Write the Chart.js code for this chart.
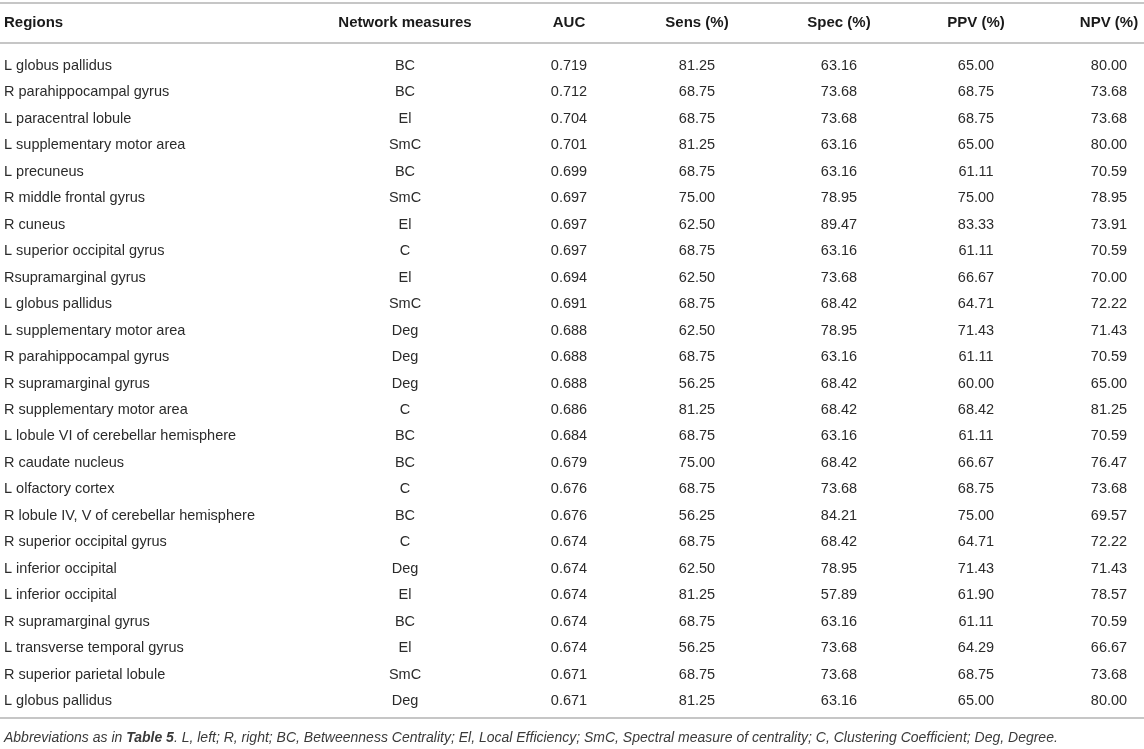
<!DOCTYPE html>
<html>
<head>
<meta charset="utf-8">
<script src="https://cdn.jsdelivr.net/npm/chart.js@4.4.1/dist/chart.umd.min.js"></script>
<style>
  html, body { margin: 0; padding: 0; background: #fff; }
  #wrap { width: 1144px; height: 749px; position: relative; }
</style>
</head>
<body>
<div id="wrap"><canvas id="tabla"></canvas></div>
<script>
// datos de la tabla
const headers = ['Regions', 'Network measures', 'AUC', 'Sens (%)', 'Spec (%)', 'PPV (%)', 'NPV (%)'];
const regions = [
  'L globus pallidus', 'R parahippocampal gyrus', 'L paracentral lobule', 'L supplementary motor area',
  'L precuneus', 'R middle frontal gyrus', 'R cuneus', 'L superior occipital gyrus',
  'Rsupramarginal gyrus', 'L globus pallidus', 'L supplementary motor area', 'R parahippocampal gyrus',
  'R supramarginal gyrus', 'R supplementary motor area', 'L lobule VI of cerebellar hemisphere',
  'R caudate nucleus', 'L olfactory cortex', 'R lobule IV, V of cerebellar hemisphere',
  'R superior occipital gyrus', 'L inferior occipital', 'L inferior occipital', 'R supramarginal gyrus',
  'L transverse temporal gyrus', 'R superior parietal lobule', 'L globus pallidus'
];
const measures = ['BC', 'BC', 'El', 'SmC', 'BC', 'SmC', 'El', 'C', 'El', 'SmC', 'Deg', 'Deg', 'Deg',
  'C', 'BC', 'BC', 'C', 'BC', 'C', 'Deg', 'El', 'BC', 'El', 'SmC', 'Deg'];
const auc = [0.719, 0.712, 0.704, 0.701, 0.699, 0.697, 0.697, 0.697, 0.694, 0.691, 0.688, 0.688, 0.688,
  0.686, 0.684, 0.679, 0.676, 0.676, 0.674, 0.674, 0.674, 0.674, 0.674, 0.671, 0.671];
const sens = [81.25, 68.75, 68.75, 81.25, 68.75, 75.00, 62.50, 68.75, 62.50, 68.75, 62.50, 68.75, 56.25,
  81.25, 68.75, 75.00, 68.75, 56.25, 68.75, 62.50, 81.25, 68.75, 56.25, 68.75, 81.25];
const spec = [63.16, 73.68, 73.68, 63.16, 63.16, 78.95, 89.47, 63.16, 73.68, 68.42, 78.95, 63.16, 68.42,
  68.42, 63.16, 68.42, 73.68, 84.21, 68.42, 78.95, 57.89, 63.16, 73.68, 73.68, 63.16];
const ppv = [65.00, 68.75, 68.75, 65.00, 61.11, 75.00, 83.33, 61.11, 66.67, 64.71, 71.43, 61.11, 60.00,
  68.42, 61.11, 66.67, 68.75, 75.00, 64.71, 71.43, 61.90, 61.11, 64.29, 68.75, 65.00];
const npv = [80.00, 73.68, 73.68, 80.00, 70.59, 78.95, 73.91, 70.59, 70.00, 72.22, 71.43, 70.59, 65.00,
  81.25, 70.59, 76.47, 73.68, 69.57, 72.22, 71.43, 78.57, 70.59, 66.67, 73.68, 80.00];
const footnote = [
  ['Abbreviations as in ', false], ['Table 5', true],
  ['. L, left; R, right; BC, Betweenness Centrality; El, Local Efficiency; SmC, Spectral measure of centrality; C, Clustering Coefficient; Deg, Degree.', false]
];

// maquetacion (posiciones de columnas en unidades del eje x, filas en unidades del eje y)
const FONT = '"Liberation Sans", Arial, Helvetica, sans-serif';
const colX = [0.04, 4.05, 5.69, 6.97, 8.39, 9.76, 11.09];
const colAlign = ['left', 'center', 'center', 'center', 'center', 'center', 'center'];
const filaHeader = -1.62, lineaTop = -2.38, lineaHeader = -0.87, lineaBottom = 24.65, filaNota = 25.4;

let columnas = [
  regions,
  measures,
  auc.map(v => v.toFixed(3)),
  sens.map(v => v.toFixed(2)),
  spec.map(v => v.toFixed(2)),
  ppv.map(v => v.toFixed(2)),
  npv.map(v => v.toFixed(2))
];

let datasets = columnas.map((textos, c) => ({
  label: headers[c],
  textos: textos,
  data: textos.map((t, i) => ({ x: colX[c], y: i })),
  pointRadius: 0,
  pointHoverRadius: 0
}));

let pluginTabla = {
  id: 'pluginTabla',
  afterDatasetsDraw(chart) {
    let ctx = chart.ctx;
    let x = chart.scales.x, y = chart.scales.y;
    ctx.save();
    // lineas horizontales
    ctx.strokeStyle = '#c6c6c6';
    ctx.lineWidth = 2;
    [lineaTop, lineaHeader, lineaBottom].forEach(v => {
      let py = Math.round(y.getPixelForValue(v));
      ctx.beginPath();
      ctx.moveTo(x.left, py);
      ctx.lineTo(x.right, py);
      ctx.stroke();
    });
    ctx.textBaseline = 'middle';
    // encabezados
    ctx.fillStyle = '#1a1a1a';
    ctx.font = 'bold 15px ' + FONT;
    headers.forEach((h, c) => {
      ctx.textAlign = colAlign[c];
      ctx.fillText(h, x.getPixelForValue(colX[c]), y.getPixelForValue(filaHeader));
    });
    // celdas
    ctx.fillStyle = '#2b2b2b';
    ctx.font = '14.5px ' + FONT;
    chart.data.datasets.forEach((ds, c) => {
      let meta = chart.getDatasetMeta(c);
      ctx.textAlign = colAlign[c];
      meta.data.forEach((el, i) => {
        ctx.fillText(ds.textos[i], el.x, el.y);
      });
    });
    // nota al pie
    ctx.fillStyle = '#3a3a3a';
    ctx.textAlign = 'left';
    let px = x.getPixelForValue(colX[0]);
    let py = y.getPixelForValue(filaNota);
    footnote.forEach(([t, negrita]) => {
      ctx.font = 'italic ' + (negrita ? 'bold ' : '') + '14px ' + FONT;
      ctx.fillText(t, px, py);
      px += ctx.measureText(t).width;
    });
    ctx.restore();
  }
};

let chartTabla = new Chart(document.getElementById('tabla').getContext('2d'), {
  type: 'scatter',
  data: { datasets: datasets },
  options: {
    responsive: true,
    maintainAspectRatio: false,
    animation: false,
    layout: { padding: 0 },
    plugins: { legend: { display: false }, tooltip: { enabled: false } },
    events: [],
    scales: {
      x: { type: 'linear', display: false, min: 0, max: 11.44 },
      y: { type: 'linear', display: false, reverse: true, min: -2.494, max: 25.81 }
    }
  },
  plugins: [pluginTabla]
});
</script>
</body>
</html>
